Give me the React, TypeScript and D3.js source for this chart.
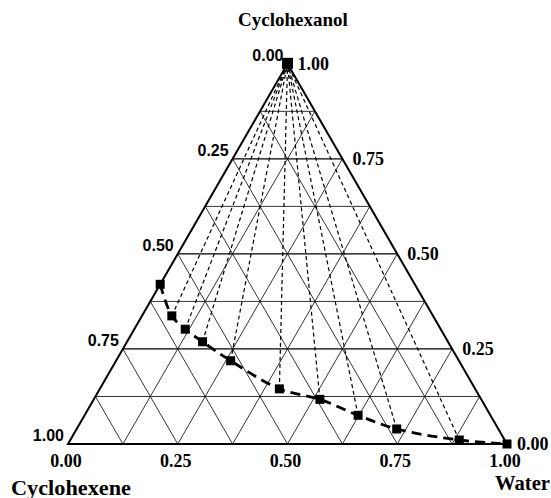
import {useEffect, useRef} from "react";
import * as d3 from "d3";

// binodal points (mass fractions)
const cyclohexanol = [0.42, 0.337, 0.302, 0.269, 0.219, 0.145, 0.1175, 0.0755, 0.0395, 0.0105, 0.0];
const water = [0.0, 0.068, 0.116, 0.172, 0.261, 0.409, 0.515, 0.623, 0.729, 0.886, 1.0];
// cyclohexanol-rich phase
const topCyclohexanol = [1.0];
const topWater = [0.0];
// tie lines: index of the lower phase point
const tieIndex = [1, 2, 3, 4, 5, 6, 7, 8, 9];
const gridSteps = [1, 2, 3, 4, 5, 6, 7].map(i => i / 8);
const tickValues = [0, 0.25, 0.5, 0.75, 1];
const tickLabels = ["0.00", "0.25", "0.50", "0.75", "1.00"];

export default function App() {
    const ref = useRef<SVGSVGElement>(null);
    useEffect(() => {
        const svg = d3.select(ref.current);
        svg.selectAll('*').remove();

        const x0 = 68, L = 439, yb = 444;
        const H = L * Math.sqrt(3) / 2;
        const xScale = d3.scaleLinear().domain([0, 1]).range([x0, x0 + L]);
        const yScale = d3.scaleLinear().domain([0, 1]).range([yb, yb - H]);
        const px = (c: number, w: number) => xScale(w + c / 2);
        const py = (c: number) => yScale(c);
        const serif = "'Liberation Serif', 'Times New Roman', serif";
        const sans = "'Liberation Sans', Arial, sans-serif";

        const grid = svg.append('g').attr('stroke', '#000').attr('fill', 'none');
        gridSteps.forEach((k, i) => {
            const major = (i + 1) % 2 === 0;
            const sw = major ? 1.3 : 0.8;
            // constant cyclohexanol
            grid.append('line').attr('x1', px(k, 0)).attr('y1', py(k)).attr('x2', px(k, 1 - k)).attr('y2', py(k)).attr('stroke-width', sw);
            // constant water
            grid.append('line').attr('x1', px(0, k)).attr('y1', py(0)).attr('x2', px(1 - k, k)).attr('y2', py(1 - k)).attr('stroke-width', 0.8);
            // constant cyclohexene
            grid.append('line').attr('x1', px(0, 1 - k)).attr('y1', py(0)).attr('x2', px(1 - k, 0)).attr('y2', py(1 - k)).attr('stroke-width', 0.8);
        });

        // outer triangle
        svg.append('path')
            .attr('d', `M${px(0, 0)},${py(0)}L${px(0, 1)},${py(0)}L${px(1, 0)},${py(1)}Z`)
            .attr('fill', 'none').attr('stroke', '#000').attr('stroke-width', 2);

        // tie lines
        tieIndex.forEach(i => {
            svg.append('line')
                .attr('x1', px(cyclohexanol[i], water[i])).attr('y1', py(cyclohexanol[i]))
                .attr('x2', px(topCyclohexanol[0], topWater[0])).attr('y2', py(topCyclohexanol[0]))
                .attr('stroke', '#000').attr('stroke-width', 1.2).attr('stroke-dasharray', '4,3');
        });

        // binodal curve
        const pts: [number, number][] = cyclohexanol.map((c, i) => [px(c, water[i]), py(c)]);
        svg.append('path')
            .attr('d', d3.line().curve(d3.curveCatmullRom)(pts))
            .attr('fill', 'none').attr('stroke', '#000').attr('stroke-width', 2.8)
            .attr('stroke-dasharray', '10,6');

        const size = 9;
        svg.selectAll('rect.pt')
            .data(pts)
            .enter()
            .append('rect')
            .attr('x', d => d[0] - size / 2)
            .attr('y', d => d[1] - size / 2)
            .attr('width', size).attr('height', size).attr('fill', '#000');
        svg.append('rect')
            .attr('x', px(topCyclohexanol[0], topWater[0]) - 5.5)
            .attr('y', py(topCyclohexanol[0]) - 6)
            .attr('width', 11).attr('height', 11).attr('fill', '#000');

        // left axis (cyclohexene)
        tickValues.forEach((v, i) => {
            const c = 1 - v;
            svg.append('text')
                .attr('x', px(c, 0) - 4).attr('y', py(c) - 3)
                .attr('text-anchor', 'end')
                .attr('font-family', sans).attr('font-weight', 'bold').attr('font-size', 16)
                .text(tickLabels[i]);
        });
        // right axis (cyclohexanol)
        tickValues.forEach((v, i) => {
            svg.append('text')
                .attr('x', px(v, 1 - v) + 10).attr('y', py(v) + 6)
                .attr('font-family', serif).attr('font-weight', 'bold').attr('font-size', 18)
                .text(tickLabels[i]);
        });
        // bottom axis (water)
        tickValues.forEach((v, i) => {
            svg.append('text')
                .attr('x', px(0, v) - 2).attr('y', 467)
                .attr('text-anchor', 'middle')
                .attr('font-family', serif).attr('font-weight', 'bold').attr('font-size', 18)
                .text(tickLabels[i]);
        });

        svg.append('text').attr('x', 293).attr('y', 26).attr('text-anchor', 'middle')
            .attr('font-family', serif).attr('font-weight', 'bold').attr('font-size', 19)
            .text('Cyclohexanol');
        svg.append('text').attr('x', 11).attr('y', 495)
            .attr('font-family', serif).attr('font-weight', 'bold').attr('font-size', 20)
            .attr('textLength', 120).attr('lengthAdjust', 'spacingAndGlyphs')
            .text('Cyclohexene');
        svg.append('text').attr('x', 495).attr('y', 490)
            .attr('font-family', serif).attr('font-weight', 'bold').attr('font-size', 20)
            .attr('textLength', 55).attr('lengthAdjust', 'spacingAndGlyphs')
            .text('Water');
    }, []);

    return <svg ref={ref} width={551} height={498}
                style={{position: 'absolute', left: 0, top: 0, background: '#fff'}}></svg>;
}
